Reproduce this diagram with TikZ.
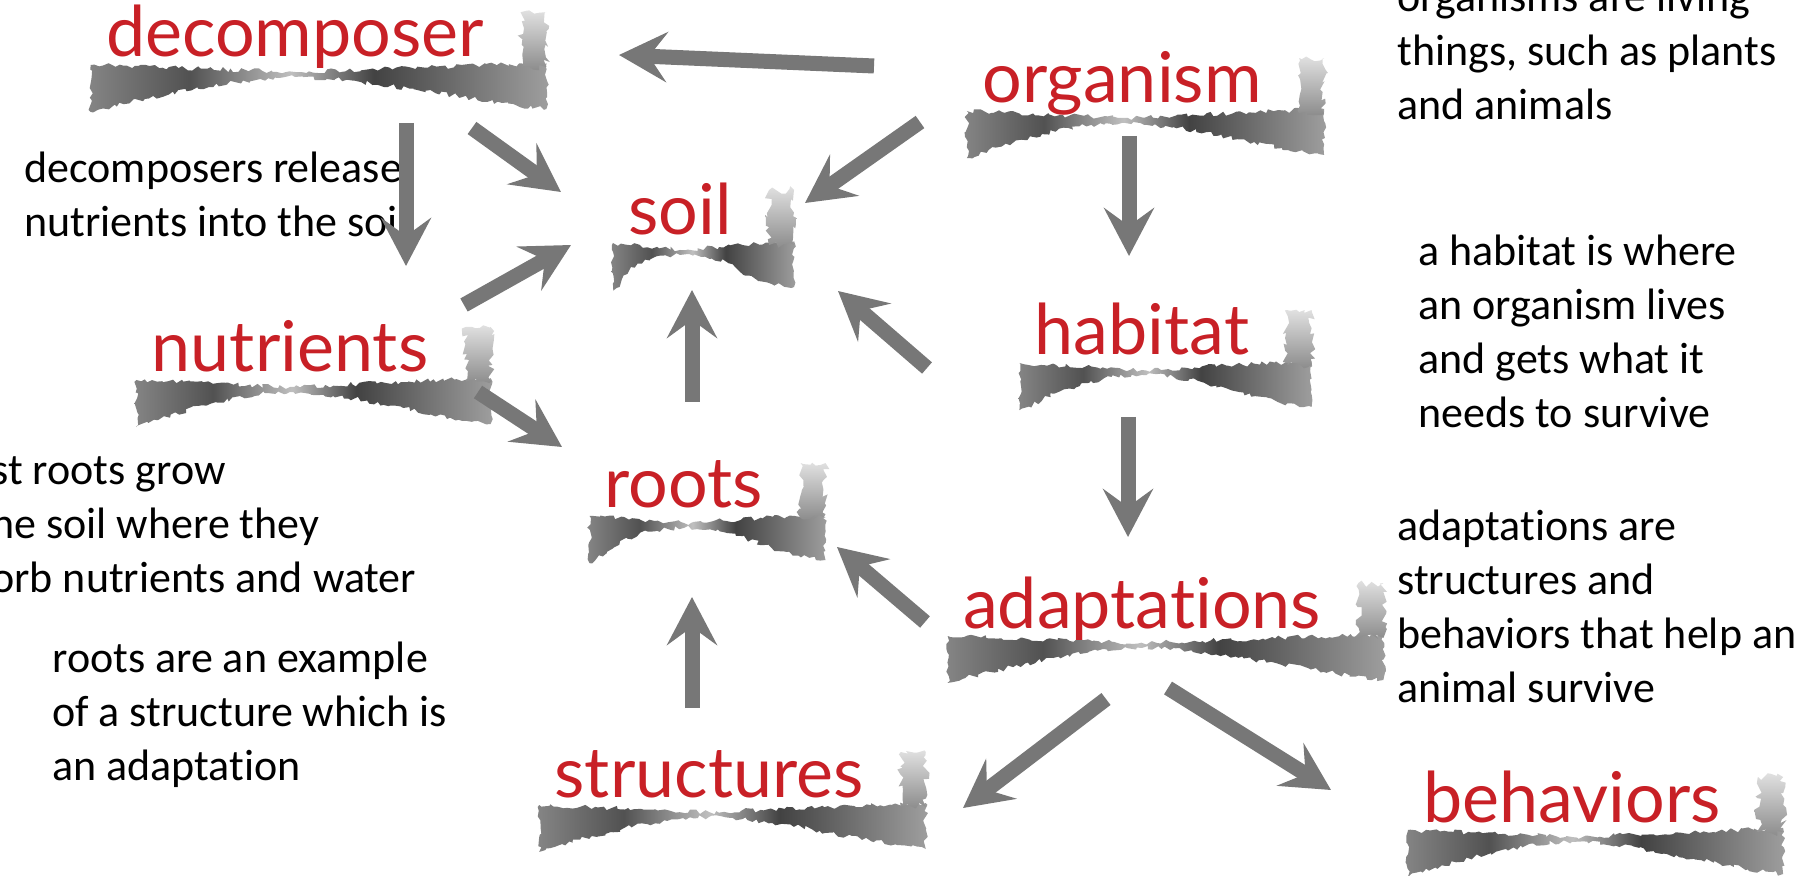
\documentclass[tikz,border=0pt]{standalone}
\usepackage{fontspec}
\setmainfont[Ligatures=NoCommon]{Carlito}
\newfontfamily\labelfont[Ligatures=NoCommon]{Lato}
\usetikzlibrary{arrows.meta,calc,decorations.pathmorphing}
\definecolor{labelred}{RGB}{200,32,38}
\definecolor{arrowgray}{RGB}{119,119,119}
\pgfdeclarelayer{background}
\pgfsetlayers{background,main}
\pgfdeclarehorizontalshading{tornshade}{100bp}{color(0bp)=(black!48); color(25bp)=(black!48); color(36bp)=(black!68); color(47bp)=(black!25); color(56bp)=(black!74); color(66bp)=(black!55); color(75bp)=(black!38); color(100bp)=(black!38)}
\tikzset{
  tag/.style={font=\labelfont\fontsize{35}{40}\selectfont, text=labelred, inner sep=0pt, anchor=base},
  note/.style={font=\fontsize{22}{27}\selectfont, align=left, inner sep=0pt, anchor=base west},
  flow/.style={draw=arrowgray, line width=7.5pt, -{Stealth[length=24pt,width=25pt,inset=9pt]}},
  tornband/.style={shading=tornshade, decorate, decoration={random steps, segment length=2pt, amplitude=1.2pt}},
  tornedge/.style={top color=black!12, bottom color=black!45, decorate, decoration={random steps, segment length=2pt, amplitude=2pt}}
}
% torn paper strip under a label
\newcommand\tornpaper[1]{%
  \begin{pgfonlayer}{background}
  \shade[tornband] ($(#1.base west)+(-15,8)$) -- ($(#1.base)+(0,15)$) -- ($(#1.base east)+(62,6)$)
    -- ($(#1.base east)+(62,52)$)
    .. controls ($(#1.base east)+(0,45)$) and ($(#1.base)+(60,20)$) .. ($(#1.base)+(0,20)$)
    .. controls ($(#1.base)+(-60,20)$) and ($(#1.base west)+(0,50)$) .. ($(#1.base west)+(-15,55)$) -- cycle;
  \shade[tornedge] ($(#1.base east)+(37,-45)$) rectangle ($(#1.base east)+(62,10)$);
  \end{pgfonlayer}}

\begin{document}
\begin{tikzpicture}[x=0.5pt,y=-0.5pt]
\useasboundingbox (0,0) rectangle (1814,876);
\clip (0,0) rectangle (1814,876);
\pgfmathsetseed{7}

% labels
\node[tag] (decomposer)  at (295,57)   {decomposer};
\node[tag] (organism)    at (1122,103) {organism};
\node[tag] (soil)        at (680,235)  {soil};
\node[tag] (habitat)     at (1142,355) {habitat};
\node[tag] (nutrients)   at (290,372)  {nutrients};
\node[tag] (roots)       at (684,508)  {roots};
\node[tag] (adaptations) at (1142,628) {adaptations};
\node[tag] (structures)  at (709,797)  {structures};
\node[tag] (behaviors)   at (1572,822) {behaviors};
\foreach \n in {decomposer,organism,soil,habitat,nutrients,roots,adaptations,structures,behaviors}
  {\tornpaper{\n}}

% notes (placed at the baseline of their last line)
\node[note] (orgnote)  at (1397,120) {organisms are living\\things, such as plants\\and animals};
\node[note] (decnote)  at (24,237)   {decomposers release\\nutrients into the soil};
\node[note] (habnote)  at (1418,428) {a habitat is where\\an organism lives\\and gets what it\\needs to survive};
\node[note] (rootnote) at (-9,592)   {st roots grow\\he soil where they\\orb nutrients and water};
\node[note] (exnote)   at (52,780)   {roots are an example\\of a structure which is\\an adaptation};
\node[note] (adanote)  at (1397,702) {adaptations are\\structures and\\behaviors that help an\\animal survive};

% arrows
\draw[flow] ([shift={(-248,-37)}]organism.base) -- ([shift={(324,-2)}]decomposer.base);
\draw[flow] ([shift={(177,71)}]decomposer.base) -- ([shift={(-119,-43)}]soil.base);
\draw[flow] ([shift={(111,66)}]decomposer.base) -- ([shift={(116,-106)}]nutrients.base);
\draw[flow] ([shift={(174,-67)}]nutrients.base) -- ([shift={(-109,10)}]soil.base);
\draw[flow] ([shift={(-202,19)}]organism.base) -- ([shift={(125,-32)}]soil.base);
\draw[flow] ([shift={(8,-106)}]roots.base) -- ([shift={(12,55)}]soil.base);
\draw[flow] ([shift={(-215,13)}]habitat.base) -- ([shift={(158,56)}]soil.base);
\draw[flow] ([shift={(188,20)}]nutrients.base) -- ([shift={(-122,-61)}]roots.base);
\draw[flow] ([shift={(-17,-89)}]structures.base) -- ([shift={(8,89)}]roots.base);
\draw[flow] ([shift={(-217,-6)}]adaptations.base) -- ([shift={(153,39)}]roots.base);
\draw[flow] ([shift={(7,33)}]organism.base) -- ([shift={(-13,-99)}]habitat.base);
\draw[flow] ([shift={(-14,62)}]habitat.base) -- ([shift={(-14,-91)}]adaptations.base);
\draw[flow] ([shift={(-36,71)}]adaptations.base) -- ([shift={(254,11)}]structures.base);
\draw[flow] ([shift={(26,60)}]adaptations.base) -- ([shift={(-241,-32)}]behaviors.base);
\end{tikzpicture}
\end{document}
